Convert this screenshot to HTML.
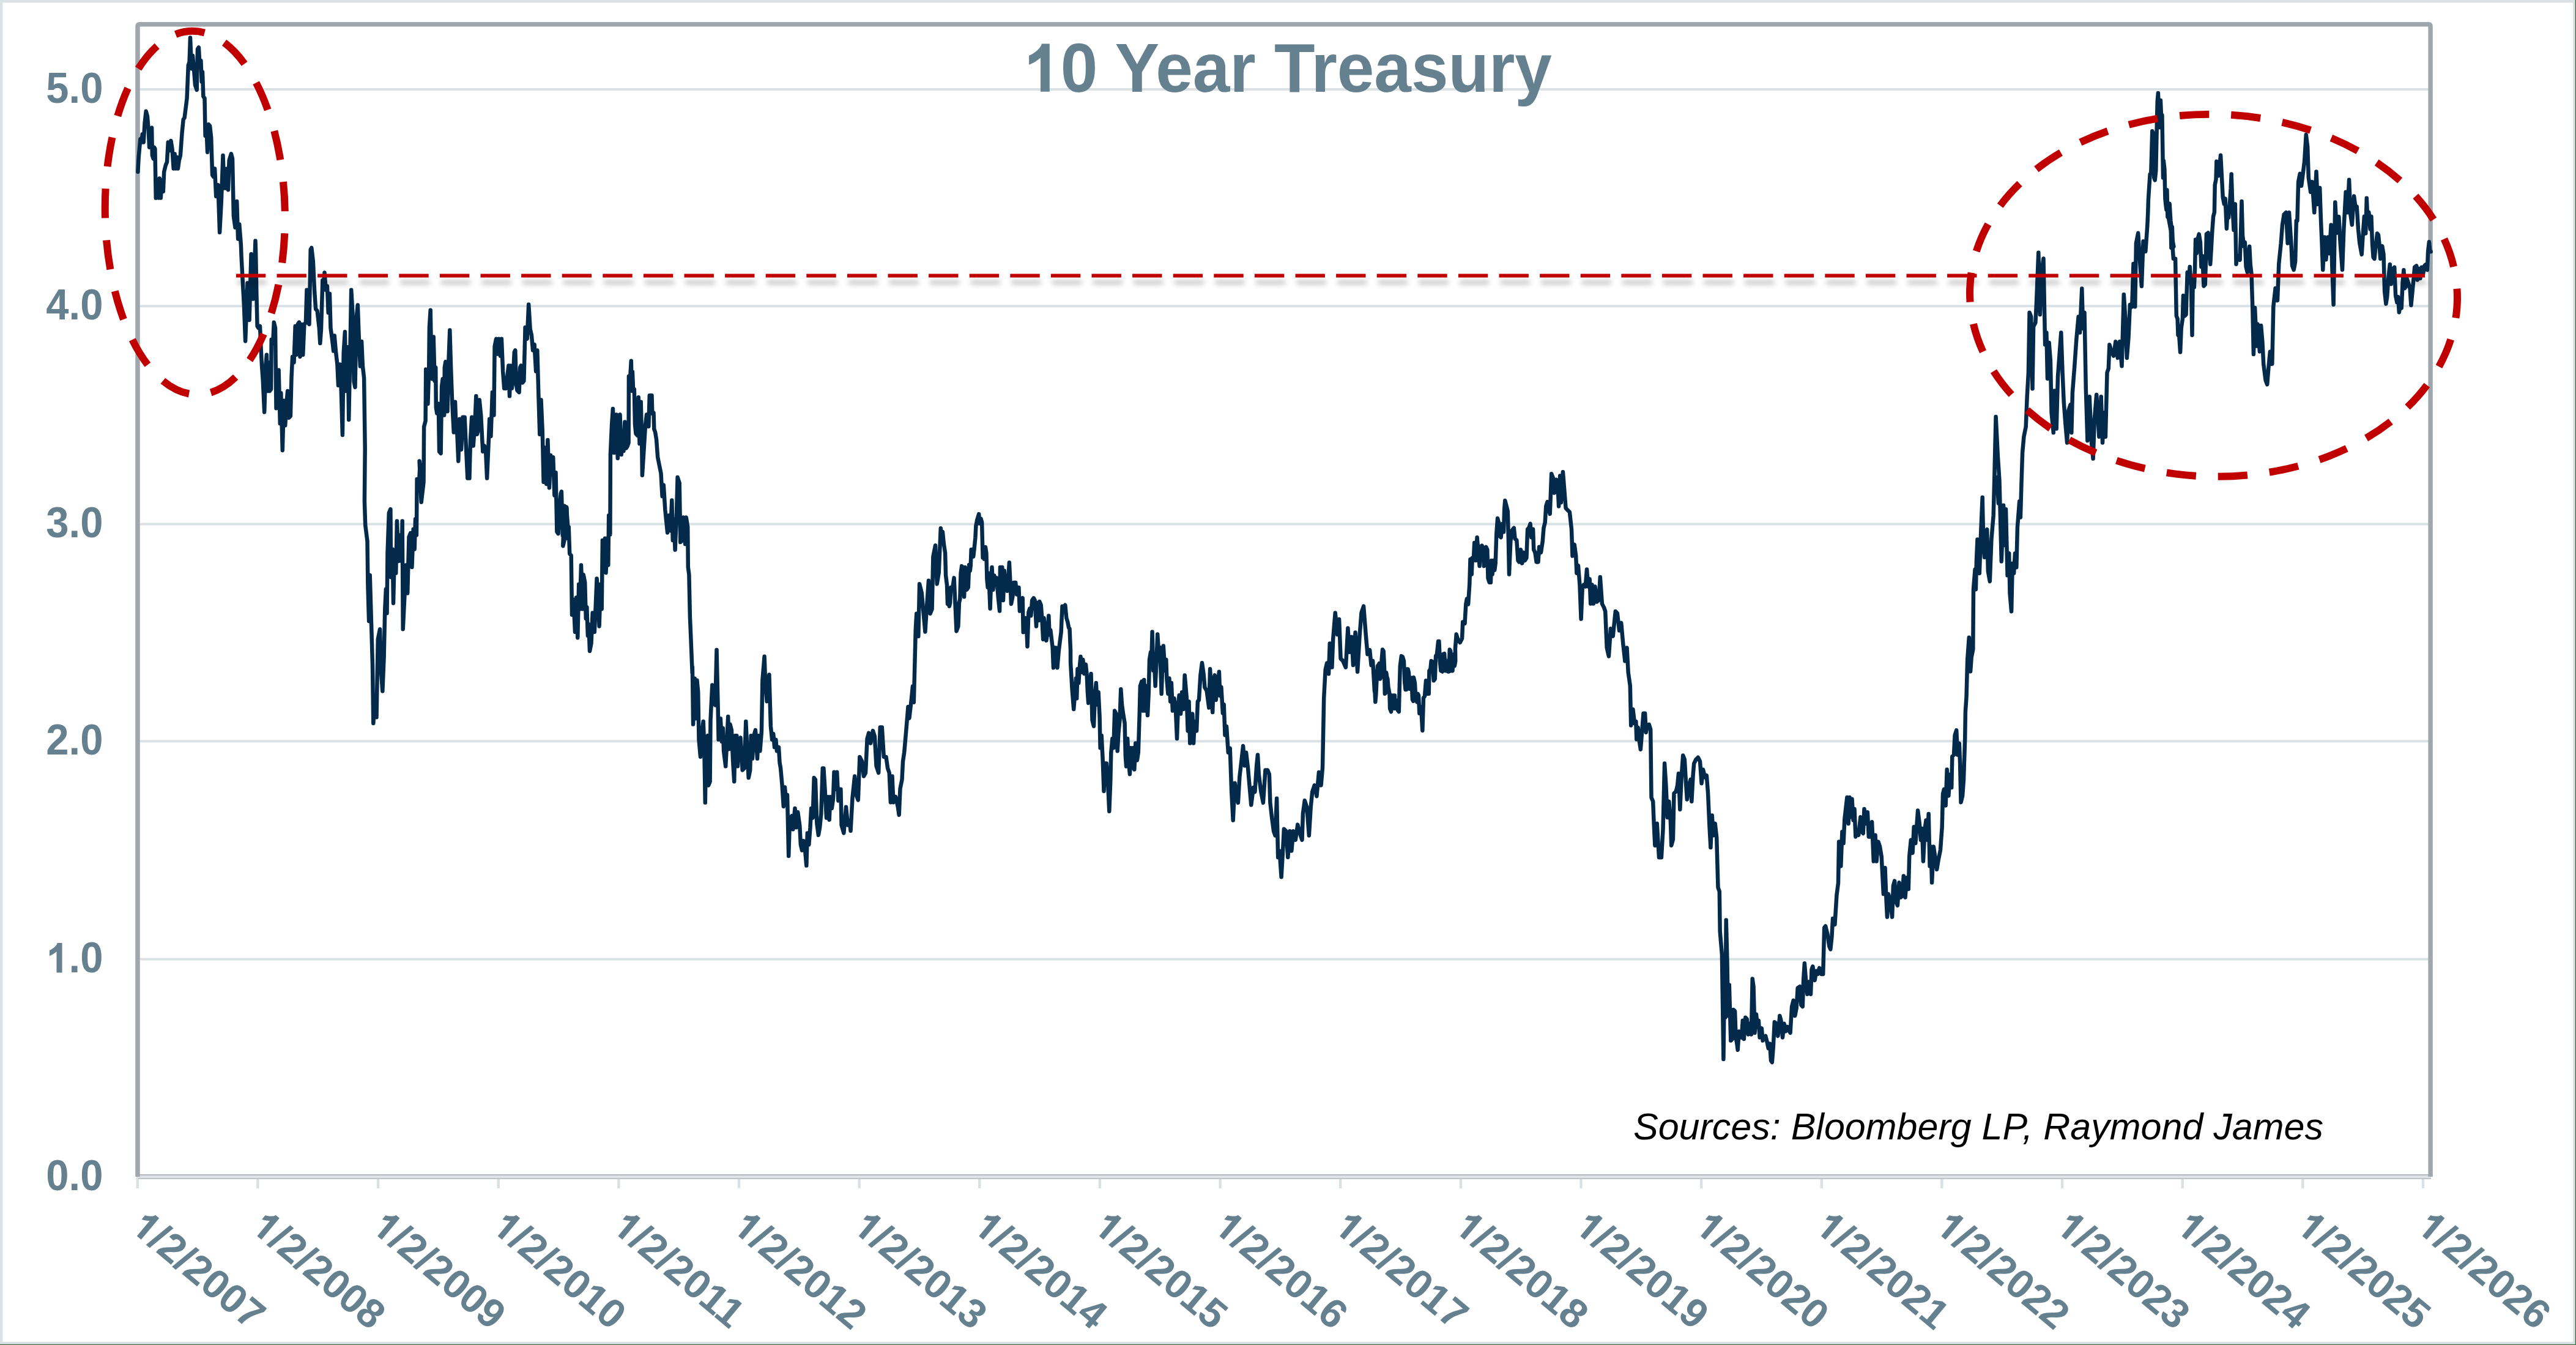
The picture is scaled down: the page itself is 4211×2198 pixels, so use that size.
<!DOCTYPE html><html><head><meta charset="utf-8"><style>html,body{margin:0;padding:0;background:#fff;width:4211px;height:2198px;overflow:hidden;position:relative}</style></head><body><svg width="4211" height="2198" viewBox="0 0 4211 2198" style="position:absolute;left:0;top:0">
<defs><filter id="sh" x="300" y="400" width="3700" height="120" filterUnits="userSpaceOnUse"><feGaussianBlur in="SourceAlpha" stdDeviation="4.5"/><feOffset dx="2" dy="11"/><feComponentTransfer><feFuncA type="linear" slope="0.27"/></feComponentTransfer><feMerge><feMergeNode/><feMergeNode in="SourceGraphic"/></feMerge></filter></defs>
<rect x="0" y="0" width="4211" height="2198" fill="#dbe2e5"/>
<rect x="4.5" y="4.5" width="4201.5" height="2188.3" fill="#ffffff"/>
<rect x="4209.7" y="0" width="1.3" height="2198" fill="#3d6b45"/>
<rect x="0" y="2196.8" width="4211" height="1.2" fill="#3d6b45"/>
<rect x="228" y="1565.5" width="3742" height="4" fill="#dae1e4"/>
<rect x="228" y="1209.3" width="3742" height="4" fill="#dae1e4"/>
<rect x="228" y="854.5" width="3742" height="4" fill="#dae1e4"/>
<rect x="228" y="498.2" width="3742" height="4" fill="#dae1e4"/>
<rect x="228" y="144.0" width="3742" height="4" fill="#dae1e4"/>
<rect x="222.6" y="1922" width="4.4" height="20" fill="#dae1e4"/>
<rect x="419.2" y="1922" width="4.4" height="20" fill="#dae1e4"/>
<rect x="615.9" y="1922" width="4.4" height="20" fill="#dae1e4"/>
<rect x="812.5" y="1922" width="4.4" height="20" fill="#dae1e4"/>
<rect x="1009.2" y="1922" width="4.4" height="20" fill="#dae1e4"/>
<rect x="1205.8" y="1922" width="4.4" height="20" fill="#dae1e4"/>
<rect x="1402.5" y="1922" width="4.4" height="20" fill="#dae1e4"/>
<rect x="1599.1" y="1922" width="4.4" height="20" fill="#dae1e4"/>
<rect x="1795.7" y="1922" width="4.4" height="20" fill="#dae1e4"/>
<rect x="1992.4" y="1922" width="4.4" height="20" fill="#dae1e4"/>
<rect x="2189.0" y="1922" width="4.4" height="20" fill="#dae1e4"/>
<rect x="2385.7" y="1922" width="4.4" height="20" fill="#dae1e4"/>
<rect x="2582.3" y="1922" width="4.4" height="20" fill="#dae1e4"/>
<rect x="2778.9" y="1922" width="4.4" height="20" fill="#dae1e4"/>
<rect x="2975.6" y="1922" width="4.4" height="20" fill="#dae1e4"/>
<rect x="3172.2" y="1922" width="4.4" height="20" fill="#dae1e4"/>
<rect x="3368.9" y="1922" width="4.4" height="20" fill="#dae1e4"/>
<rect x="3565.5" y="1922" width="4.4" height="20" fill="#dae1e4"/>
<rect x="3762.2" y="1922" width="4.4" height="20" fill="#dae1e4"/>
<rect x="3958.8" y="1922" width="4.4" height="20" fill="#dae1e4"/>
<rect x="226" y="1919" width="3748" height="8" fill="#dde3e6"/>
<rect x="226" y="1919" width="3748" height="1.8" fill="#a9b2ba"/>
<rect x="226" y="1925.2" width="3748" height="1.8" fill="#b9c1c7"/>
<path d="M225,1923 L225,43 Q225,39.7 228.3,39.7 L3969.8,39.7 Q3973.1,39.7 3973.1,43 L3973.1,1923" fill="none" stroke="#9ea6ae" stroke-width="7.4"/>
<text transform="translate(168.5,1944.9) scale(1,1.05)" text-anchor="end" font-family="Liberation Sans" font-weight="bold" font-size="67" fill="#65808e">0.0</text>
<g transform="translate(168.5,1589.4) scale(1,1.05)" fill="#65808e"><path d="M802,0 H523 V1039 C440,960 300,870 169,823 V1105 C260,1140 360,1210 430,1271 C500,1335 545,1400 560,1466 H802 Z" transform="translate(-93.14,0) scale(0.032715,-0.031442)"/><text x="-55.89" y="0" font-family="Liberation Sans" font-weight="bold" font-size="67">.0</text></g>
<text transform="translate(168.5,1233.2) scale(1,1.05)" text-anchor="end" font-family="Liberation Sans" font-weight="bold" font-size="67" fill="#65808e">2.0</text>
<text transform="translate(168.5,878.4) scale(1,1.05)" text-anchor="end" font-family="Liberation Sans" font-weight="bold" font-size="67" fill="#65808e">3.0</text>
<text transform="translate(168.5,522.1) scale(1,1.05)" text-anchor="end" font-family="Liberation Sans" font-weight="bold" font-size="67" fill="#65808e">4.0</text>
<text transform="translate(168.5,167.9) scale(1,1.05)" text-anchor="end" font-family="Liberation Sans" font-weight="bold" font-size="67" fill="#65808e">5.0</text>
<g transform="translate(2105.1,149.7) scale(0.99,1.032)" fill="#65808e"><path d="M802,0 H523 V1039 C440,960 300,870 169,823 V1105 C260,1140 360,1210 430,1271 C500,1335 545,1400 560,1466 H802 Z" transform="translate(-436.3,0) scale(0.053711,-0.051622)"/><text x="-375.13" y="0" font-family="Liberation Sans" font-weight="bold" font-size="110">0 Year Treasury</text></g>
<text x="2670" y="1862.2" font-family="Liberation Sans" font-style="italic" font-size="61" fill="#000">Sources: Bloomberg LP, Raymond James</text>
<g transform="translate(210.8,2009.0) rotate(40.0)" fill="#65808e"><path d="M802,0 H523 V1039 C440,960 300,870 169,823 V1105 C260,1140 360,1210 430,1271 C500,1335 545,1400 560,1466 H802 Z" transform="scale(0.032471,-0.031208)"/><text x="36.97" y="0" font-family="Liberation Sans" font-weight="bold" font-size="66.5">/2/2007</text></g>
<g transform="translate(407.4,2009.0) rotate(40.0)" fill="#65808e"><path d="M802,0 H523 V1039 C440,960 300,870 169,823 V1105 C260,1140 360,1210 430,1271 C500,1335 545,1400 560,1466 H802 Z" transform="scale(0.032471,-0.031208)"/><text x="36.97" y="0" font-family="Liberation Sans" font-weight="bold" font-size="66.5">/2/2008</text></g>
<g transform="translate(604.1,2009.0) rotate(40.0)" fill="#65808e"><path d="M802,0 H523 V1039 C440,960 300,870 169,823 V1105 C260,1140 360,1210 430,1271 C500,1335 545,1400 560,1466 H802 Z" transform="scale(0.032471,-0.031208)"/><text x="36.97" y="0" font-family="Liberation Sans" font-weight="bold" font-size="66.5">/2/2009</text></g>
<g transform="translate(800.7,2009.0) rotate(40.0)" fill="#65808e"><path d="M802,0 H523 V1039 C440,960 300,870 169,823 V1105 C260,1140 360,1210 430,1271 C500,1335 545,1400 560,1466 H802 Z" transform="scale(0.032471,-0.031208)"/><text x="36.97" y="0" font-family="Liberation Sans" font-weight="bold" font-size="66.5">/2/2010</text></g>
<g transform="translate(997.4,2009.0) rotate(40.0)" fill="#65808e"><path d="M802,0 H523 V1039 C440,960 300,870 169,823 V1105 C260,1140 360,1210 430,1271 C500,1335 545,1400 560,1466 H802 Z" transform="scale(0.032471,-0.031208)"/><text x="36.97" y="0" font-family="Liberation Sans" font-weight="bold" font-size="66.5">/2/2011</text></g>
<g transform="translate(1194.0,2009.0) rotate(40.0)" fill="#65808e"><path d="M802,0 H523 V1039 C440,960 300,870 169,823 V1105 C260,1140 360,1210 430,1271 C500,1335 545,1400 560,1466 H802 Z" transform="scale(0.032471,-0.031208)"/><text x="36.97" y="0" font-family="Liberation Sans" font-weight="bold" font-size="66.5">/2/2012</text></g>
<g transform="translate(1390.7,2009.0) rotate(40.0)" fill="#65808e"><path d="M802,0 H523 V1039 C440,960 300,870 169,823 V1105 C260,1140 360,1210 430,1271 C500,1335 545,1400 560,1466 H802 Z" transform="scale(0.032471,-0.031208)"/><text x="36.97" y="0" font-family="Liberation Sans" font-weight="bold" font-size="66.5">/2/2013</text></g>
<g transform="translate(1587.3,2009.0) rotate(40.0)" fill="#65808e"><path d="M802,0 H523 V1039 C440,960 300,870 169,823 V1105 C260,1140 360,1210 430,1271 C500,1335 545,1400 560,1466 H802 Z" transform="scale(0.032471,-0.031208)"/><text x="36.97" y="0" font-family="Liberation Sans" font-weight="bold" font-size="66.5">/2/2014</text></g>
<g transform="translate(1783.9,2009.0) rotate(40.0)" fill="#65808e"><path d="M802,0 H523 V1039 C440,960 300,870 169,823 V1105 C260,1140 360,1210 430,1271 C500,1335 545,1400 560,1466 H802 Z" transform="scale(0.032471,-0.031208)"/><text x="36.97" y="0" font-family="Liberation Sans" font-weight="bold" font-size="66.5">/2/2015</text></g>
<g transform="translate(1980.6,2009.0) rotate(40.0)" fill="#65808e"><path d="M802,0 H523 V1039 C440,960 300,870 169,823 V1105 C260,1140 360,1210 430,1271 C500,1335 545,1400 560,1466 H802 Z" transform="scale(0.032471,-0.031208)"/><text x="36.97" y="0" font-family="Liberation Sans" font-weight="bold" font-size="66.5">/2/2016</text></g>
<g transform="translate(2177.2,2009.0) rotate(40.0)" fill="#65808e"><path d="M802,0 H523 V1039 C440,960 300,870 169,823 V1105 C260,1140 360,1210 430,1271 C500,1335 545,1400 560,1466 H802 Z" transform="scale(0.032471,-0.031208)"/><text x="36.97" y="0" font-family="Liberation Sans" font-weight="bold" font-size="66.5">/2/2017</text></g>
<g transform="translate(2373.9,2009.0) rotate(40.0)" fill="#65808e"><path d="M802,0 H523 V1039 C440,960 300,870 169,823 V1105 C260,1140 360,1210 430,1271 C500,1335 545,1400 560,1466 H802 Z" transform="scale(0.032471,-0.031208)"/><text x="36.97" y="0" font-family="Liberation Sans" font-weight="bold" font-size="66.5">/2/2018</text></g>
<g transform="translate(2570.5,2009.0) rotate(40.0)" fill="#65808e"><path d="M802,0 H523 V1039 C440,960 300,870 169,823 V1105 C260,1140 360,1210 430,1271 C500,1335 545,1400 560,1466 H802 Z" transform="scale(0.032471,-0.031208)"/><text x="36.97" y="0" font-family="Liberation Sans" font-weight="bold" font-size="66.5">/2/2019</text></g>
<g transform="translate(2767.1,2009.0) rotate(40.0)" fill="#65808e"><path d="M802,0 H523 V1039 C440,960 300,870 169,823 V1105 C260,1140 360,1210 430,1271 C500,1335 545,1400 560,1466 H802 Z" transform="scale(0.032471,-0.031208)"/><text x="36.97" y="0" font-family="Liberation Sans" font-weight="bold" font-size="66.5">/2/2020</text></g>
<g transform="translate(2963.8,2009.0) rotate(40.0)" fill="#65808e"><path d="M802,0 H523 V1039 C440,960 300,870 169,823 V1105 C260,1140 360,1210 430,1271 C500,1335 545,1400 560,1466 H802 Z" transform="scale(0.032471,-0.031208)"/><text x="36.97" y="0" font-family="Liberation Sans" font-weight="bold" font-size="66.5">/2/2021</text></g>
<g transform="translate(3160.4,2009.0) rotate(40.0)" fill="#65808e"><path d="M802,0 H523 V1039 C440,960 300,870 169,823 V1105 C260,1140 360,1210 430,1271 C500,1335 545,1400 560,1466 H802 Z" transform="scale(0.032471,-0.031208)"/><text x="36.97" y="0" font-family="Liberation Sans" font-weight="bold" font-size="66.5">/2/2022</text></g>
<g transform="translate(3357.1,2009.0) rotate(40.0)" fill="#65808e"><path d="M802,0 H523 V1039 C440,960 300,870 169,823 V1105 C260,1140 360,1210 430,1271 C500,1335 545,1400 560,1466 H802 Z" transform="scale(0.032471,-0.031208)"/><text x="36.97" y="0" font-family="Liberation Sans" font-weight="bold" font-size="66.5">/2/2023</text></g>
<g transform="translate(3553.7,2009.0) rotate(40.0)" fill="#65808e"><path d="M802,0 H523 V1039 C440,960 300,870 169,823 V1105 C260,1140 360,1210 430,1271 C500,1335 545,1400 560,1466 H802 Z" transform="scale(0.032471,-0.031208)"/><text x="36.97" y="0" font-family="Liberation Sans" font-weight="bold" font-size="66.5">/2/2024</text></g>
<g transform="translate(3750.4,2009.0) rotate(40.0)" fill="#65808e"><path d="M802,0 H523 V1039 C440,960 300,870 169,823 V1105 C260,1140 360,1210 430,1271 C500,1335 545,1400 560,1466 H802 Z" transform="scale(0.032471,-0.031208)"/><text x="36.97" y="0" font-family="Liberation Sans" font-weight="bold" font-size="66.5">/2/2025</text></g>
<g transform="translate(3947.0,2009.0) rotate(40.0)" fill="#65808e"><path d="M802,0 H523 V1039 C440,960 300,870 169,823 V1105 C260,1140 360,1210 430,1271 C500,1335 545,1400 560,1466 H802 Z" transform="scale(0.032471,-0.031208)"/><text x="36.97" y="0" font-family="Liberation Sans" font-weight="bold" font-size="66.5">/2/2026</text></g>
<path d="M225.4,280.8 L226.7,256.7 L229.4,227.3 L231.2,232.6 L232.8,219.3 L234.7,232.6 L236.6,200.5 L238.7,181.8 L240.9,189.8 L242.7,211.2 L244.1,240.7 L246.2,211.2 L248.1,208.6 L248.9,254.0 L250.8,259.4 L252.1,240.7 L253.4,243.3 L254.8,323.6 L257.5,294.2 L259.6,323.6 L260.7,291.5 L262.8,323.6 L264.9,294.2 L266.8,312.9 L268.2,280.8 L270.8,270.1 L273.0,264.7 L274.8,232.6 L277.5,246.0 L279.4,230.0 L281.5,243.3 L283.7,275.5 L285.6,251.4 L287.4,275.5 L289.0,256.7 L290.9,275.5 L292.8,262.1 L294.9,254.0 L297.6,216.6 L299.7,195.2 L301.6,192.5 L304.3,171.1 L305.6,160.4 L307.8,106.9 L309.6,101.5 L311.0,61.4 L313.1,112.2 L315.0,90.8 L316.9,112.2 L319.0,139.0 L321.7,147.0 L323.0,80.1 L324.9,77.5 L326.5,106.9 L328.4,98.9 L329.7,133.6 L331.0,117.6 L332.4,157.7 L334.5,160.4 L335.6,221.9 L337.7,213.9 L339.1,248.7 L340.9,203.2 L343.1,205.9 L345.2,224.6 L347.1,286.2 L349.0,288.8 L351.1,275.5 L353.2,320.9 L356.5,302.2 L359.1,379.8 L361.8,329.0 L364.5,254.0 L366.6,307.6 L369.3,307.6 L371.2,275.5 L373.0,310.2 L374.6,262.1 L377.9,251.4 L380.0,259.4 L381.9,353.0 L384.5,371.8 L387.2,329.0 L389.1,390.5 L391.2,366.4 L393.9,399.9 L394.6,419.5 L399.0,501.4 L401.1,557.5 L404.6,462.6 L407.6,523.0 L410.6,415.2 L414.0,488.5 L417.5,393.6 L418.1,411.2 L419.4,483.0 L420.6,533.0 L422.5,536.1 L425.0,533.0 L426.5,567.3 L428.1,598.5 L429.7,620.4 L432.2,673.5 L434.3,598.5 L435.9,579.8 L437.5,639.1 L439.0,592.3 L440.6,639.1 L443.1,636.0 L443.7,554.8 L446.2,561.1 L447.8,526.7 L450.0,536.1 L451.5,667.2 L453.7,617.3 L455.6,604.8 L457.8,692.2 L459.3,642.3 L461.8,735.9 L464.0,654.7 L466.2,695.3 L468.7,654.7 L470.2,639.1 L472.4,682.8 L474.9,679.7 L476.5,617.3 L478.1,582.9 L480.5,592.3 L482.7,533.0 L484.3,579.8 L486.8,529.9 L489.0,526.7 L490.5,582.9 L493.0,529.9 L495.2,579.8 L497.4,529.9 L499.9,526.7 L501.5,473.7 L503.0,526.7 L505.5,529.9 L507.7,408.1 L509.3,405.0 L511.8,426.8 L514.0,473.7 L516.1,504.9 L518.6,508.0 L521.8,536.1 L523.3,561.1 L524.9,539.2 L527.4,458.1 L528.6,473.7 L530.5,445.6 L532.7,473.7 L534.9,467.4 L536.7,511.1 L538.9,479.9 L540.5,536.1 L543.0,554.8 L545.2,573.6 L546.7,548.6 L549.2,576.7 L551.4,595.4 L553.0,629.8 L555.5,595.4 L557.7,636.0 L559.9,710.9 L561.7,576.7 L563.9,542.3 L565.5,639.1 L568.6,567.3 L570.2,686.0 L572.3,579.8 L574.2,473.7 L576.4,511.1 L578.6,623.5 L580.5,632.9 L582.6,520.5 L584.8,498.6 L587.3,567.3 L588.9,598.5 L591.1,558.0 L592.9,598.5 L595.1,617.3 L596.7,732.8 L595.9,818.9 L597.2,858.1 L600.5,884.3 L601.4,956.3 L603.1,1015.2 L604.7,939.9 L607.0,1018.4 L609.0,1087.1 L610.3,1182.0 L612.9,1139.5 L615.5,1172.2 L617.8,1044.6 L621.1,1028.2 L622.7,1093.7 L625.3,1129.6 L627.6,1074.0 L629.3,995.5 L630.9,962.8 L632.5,1002.1 L633.5,903.9 L635.8,838.5 L638.4,832.0 L639.1,943.2 L641.7,897.4 L643.0,985.7 L645.0,900.7 L647.2,936.6 L648.9,851.6 L651.5,917.0 L653.8,874.5 L656.4,917.0 L657.7,851.6 L658.7,1028.2 L661.3,975.9 L663.6,923.6 L666.2,969.4 L668.5,877.8 L671.1,871.2 L673.4,926.8 L675.7,864.7 L677.7,897.4 L679.0,848.3 L680.9,874.5 L681.6,782.9 L684.9,792.7 L686.5,760.0 L685.6,753.5 L688.7,820.6 L692.5,787.8 L693.1,697.3 L695.6,687.9 L696.2,603.6 L698.1,606.7 L699.4,659.8 L701.2,603.6 L701.9,534.9 L703.7,506.8 L705.0,578.6 L706.5,619.2 L708.7,550.5 L710.6,622.3 L712.2,600.5 L712.8,666.1 L714.3,675.4 L716.8,659.8 L718.1,737.9 L720.6,741.0 L722.1,631.7 L723.7,619.2 L726.2,678.5 L726.8,600.5 L728.4,591.1 L730.0,634.8 L731.5,672.3 L733.1,597.4 L735.3,539.6 L737.1,600.5 L739.3,659.8 L741.8,706.6 L744.0,656.7 L745.6,700.4 L747.1,703.5 L749.3,753.5 L751.2,684.8 L754.0,734.7 L756.5,681.7 L759.6,681.7 L761.8,728.5 L764.3,781.6 L767.4,781.6 L769.0,719.1 L771.2,681.7 L773.7,728.5 L776.2,694.2 L778.3,647.3 L779.9,709.8 L781.5,703.5 L783.7,653.6 L786.2,678.5 L789.3,737.9 L791.8,728.5 L794.0,734.7 L796.1,781.6 L798.6,725.4 L800.2,684.8 L802.4,712.9 L804.9,641.1 L807.4,678.5 L808.6,566.2 L811.1,553.7 L813.6,578.6 L815.2,553.7 L818.0,581.8 L819.9,553.7 L822.1,606.7 L824.2,634.8 L826.7,634.8 L829.2,616.1 L831.4,597.4 L833.0,647.3 L834.5,597.4 L836.7,634.8 L838.6,619.2 L840.8,575.5 L842.3,572.4 L843.9,628.6 L845.5,638.0 L848.6,641.1 L850.2,600.5 L851.7,597.4 L854.2,625.5 L856.4,622.3 L858.6,534.9 L861.7,553.7 L864.2,497.5 L866.7,538.1 L868.9,547.4 L871.1,572.4 L873.6,563.0 L876.1,606.7 L878.3,572.4 L880.4,647.3 L882.3,709.8 L884.5,653.6 L886.7,703.5 L888.6,787.8 L890.7,731.6 L893.2,790.9 L895.4,719.1 L897.9,797.2 L900.1,744.1 L902.3,775.3 L904.2,747.2 L906.4,809.7 L908.5,772.2 L910.4,869.0 L912.6,872.1 L914.8,828.4 L916.7,806.6 L917.9,803.4 L919.8,875.2 L923.5,847.1 L926.0,828.4 L928.2,859.6 L920.3,892.3 L922.5,826.7 L925.0,870.4 L926.5,829.9 L928.1,879.8 L929.7,861.1 L931.2,904.8 L933.7,907.9 L935.0,1004.7 L937.5,979.7 L940.0,1032.8 L942.1,976.6 L944.3,1042.2 L946.2,954.7 L947.8,995.3 L950.0,923.5 L952.5,995.3 L953.7,939.1 L956.2,951.6 L957.8,1010.9 L959.3,992.2 L960.9,1039.0 L962.4,1020.3 L964.0,1064.0 L966.5,1051.5 L968.7,1001.6 L971.8,1032.8 L973.4,998.5 L975.6,945.4 L978.1,979.7 L979.6,1023.4 L981.8,954.7 L983.7,995.3 L984.9,882.9 L987.4,929.8 L989.0,879.8 L990.5,936.0 L993.0,879.8 L994.3,923.5 L995.2,842.3 L997.4,873.6 L997.9,743.0 L1000.1,693.9 L1001.9,667.9 L1003.1,708.8 L1003.8,740.0 L1006.0,716.2 L1007.5,677.5 L1009.8,748.9 L1011.2,679.0 L1013.5,677.5 L1015.7,743.0 L1017.9,716.2 L1019.4,737.0 L1021.4,689.4 L1023.4,732.6 L1025.4,729.6 L1027.6,723.6 L1027.9,615.0 L1029.8,622.5 L1031.8,589.8 L1032.8,638.8 L1033.9,607.6 L1035.0,634.4 L1036.8,635.9 L1038.0,693.9 L1039.5,708.8 L1042.2,711.7 L1043.7,649.3 L1045.5,725.1 L1047.7,656.7 L1049.2,723.6 L1049.9,776.8 L1055.1,693.9 L1057.1,677.5 L1058.8,679.0 L1060.3,696.9 L1061.8,646.3 L1065.5,646.3 L1066.3,676.0 L1068.5,674.5 L1069.3,701.3 L1071.0,705.8 L1073.0,717.7 L1075.2,747.4 L1080.5,773.7 L1082.6,811.1 L1084.8,792.4 L1087.3,833.0 L1091.1,870.4 L1093.6,842.3 L1096.1,867.3 L1098.3,817.4 L1099.8,882.9 L1101.4,848.6 L1103.6,898.5 L1106.1,836.1 L1107.6,779.9 L1110.7,789.3 L1112.3,886.1 L1115.4,882.9 L1117.0,845.5 L1120.1,889.2 L1121.7,845.5 L1124.2,861.1 L1124.8,926.6 L1126.4,939.1 L1127.9,1007.8 L1129.5,1045.3 L1131.7,1099.9 L1131.9,1090.0 L1133.1,1183.6 L1135.6,1108.7 L1137.2,1174.2 L1139.4,1111.8 L1141.2,1130.5 L1142.5,1208.6 L1145.0,1236.7 L1147.5,1196.1 L1149.7,1178.9 L1151.2,1218.0 L1152.8,1311.6 L1154.3,1205.5 L1156.8,1202.3 L1158.1,1283.5 L1160.6,1277.3 L1161.5,1177.4 L1164.3,1119.6 L1166.8,1149.3 L1169.3,1152.4 L1171.5,1061.9 L1173.7,1158.6 L1174.6,1208.6 L1177.8,1174.2 L1179.9,1211.7 L1181.8,1189.9 L1183.1,1227.3 L1186.2,1252.3 L1188.1,1214.8 L1190.2,1171.1 L1191.8,1224.2 L1193.4,1183.6 L1195.9,1193.0 L1198.1,1242.9 L1200.2,1277.3 L1201.8,1202.3 L1204.3,1202.3 L1205.9,1252.3 L1208.0,1214.8 L1210.5,1205.5 L1213.7,1258.5 L1216.8,1255.4 L1219.3,1178.9 L1221.5,1227.3 L1223.7,1271.0 L1226.2,1258.5 L1227.7,1202.3 L1229.9,1239.8 L1232.4,1202.3 L1234.9,1193.0 L1238.0,1239.8 L1239.6,1202.3 L1242.4,1227.3 L1244.9,1196.1 L1246.4,1111.8 L1249.6,1072.8 L1251.1,1114.9 L1253.6,1146.2 L1255.2,1139.9 L1257.4,1102.4 L1259.9,1186.7 L1262.1,1208.6 L1264.2,1199.2 L1266.1,1221.1 L1268.3,1208.6 L1269.9,1227.3 L1273.0,1221.1 L1274.5,1246.1 L1276.1,1255.4 L1278.6,1283.5 L1280.8,1317.9 L1283.0,1286.6 L1285.5,1314.7 L1287.0,1299.1 L1289.2,1399.0 L1291.1,1336.6 L1294.2,1333.5 L1296.4,1355.3 L1299.5,1321.0 L1301.7,1352.2 L1304.2,1327.2 L1307.3,1349.1 L1308.9,1380.3 L1311.1,1389.7 L1313.6,1374.1 L1316.1,1389.7 L1318.3,1414.6 L1319.8,1361.6 L1322.3,1380.3 L1324.5,1352.2 L1326.1,1321.0 L1328.6,1336.6 L1330.7,1271.0 L1332.9,1274.2 L1335.4,1346.0 L1337.9,1364.7 L1340.1,1352.2 L1342.3,1330.4 L1344.8,1255.4 L1346.4,1255.4 L1348.5,1289.8 L1351.0,1336.6 L1353.5,1302.3 L1355.7,1339.7 L1357.3,1302.3 L1359.8,1321.0 L1362.0,1305.4 L1363.5,1261.7 L1366.6,1289.8 L1368.2,1261.7 L1370.4,1308.5 L1372.9,1289.8 L1374.4,1289.8 L1375.6,1348.4 L1379.3,1361.4 L1383.0,1318.7 L1386.0,1348.4 L1389.0,1341.0 L1390.5,1357.7 L1393.5,1303.8 L1397.2,1268.5 L1400.1,1300.1 L1402.8,1307.5 L1405.4,1236.9 L1409.1,1244.3 L1412.0,1268.5 L1415.0,1262.9 L1417.6,1207.1 L1420.2,1197.8 L1423.2,1214.6 L1426.9,1194.1 L1429.9,1203.4 L1432.5,1251.7 L1436.2,1262.9 L1438.8,1188.6 L1441.8,1188.6 L1444.8,1236.9 L1448.5,1236.9 L1451.1,1255.5 L1453.7,1262.9 L1455.9,1311.2 L1458.5,1268.5 L1460.4,1311.2 L1464.1,1301.9 L1467.8,1318.7 L1469.7,1331.7 L1471.5,1288.9 L1474.5,1274.1 L1476.0,1244.3 L1478.2,1229.4 L1480.8,1199.7 L1484.5,1155.1 L1486.4,1173.7 L1489.4,1147.7 L1492.0,1121.6 L1493.8,1147.7 L1496.8,1028.7 L1498.3,1002.7 L1501.3,1039.9 L1503.1,954.3 L1506.8,969.2 L1508.7,991.5 L1512.4,1032.4 L1514.3,1002.7 L1518.0,948.8 L1520.6,1002.7 L1523.6,995.2 L1525.4,909.7 L1529.1,891.2 L1531.7,954.3 L1534.7,935.8 L1537.8,863.2 L1539.3,878.7 L1540.9,869.0 L1542.8,888.3 L1545.1,903.8 L1546.1,940.5 L1548.0,956.0 L1549.0,986.9 L1550.5,975.3 L1551.9,990.8 L1553.2,985.0 L1554.4,959.9 L1556.7,963.7 L1559.6,944.4 L1561.0,975.3 L1563.5,1031.4 L1566.4,1023.6 L1567.9,985.0 L1569.3,979.2 L1570.6,936.7 L1572.2,925.1 L1574.1,930.9 L1576.1,975.3 L1577.6,927.0 L1579.0,940.5 L1580.3,963.7 L1582.8,959.9 L1584.2,923.1 L1585.7,932.8 L1586.7,925.1 L1587.7,898.0 L1589.2,898.0 L1591.1,909.6 L1592.5,898.0 L1594.4,878.7 L1595.4,859.3 L1597.3,849.7 L1600.2,840.0 L1601.2,855.5 L1603.5,847.7 L1605.1,853.5 L1606.6,911.5 L1608.0,894.1 L1608.9,913.5 L1610.9,894.1 L1612.4,903.8 L1613.4,946.3 L1614.7,959.9 L1616.3,936.7 L1618.6,994.6 L1620.1,950.2 L1621.5,927.0 L1623.4,963.7 L1625.4,940.5 L1627.3,952.1 L1629.2,944.4 L1631.7,975.3 L1634.1,998.5 L1635.0,927.0 L1637.0,940.5 L1638.3,927.0 L1639.9,981.1 L1641.8,932.8 L1643.7,963.7 L1645.3,942.5 L1646.6,965.7 L1647.6,956.0 L1649.9,919.3 L1651.5,952.1 L1653.0,986.9 L1655.3,975.3 L1657.3,952.1 L1660.2,952.1 L1662.1,971.5 L1663.4,959.9 L1665.4,959.9 L1666.9,998.5 L1668.8,981.1 L1671.7,977.3 L1672.7,1033.3 L1674.6,1010.1 L1677.5,1010.1 L1679.5,1056.5 L1681.4,1000.4 L1683.3,994.6 L1685.3,1006.2 L1687.2,981.1 L1689.7,977.3 L1691.7,981.1 L1694.0,1023.6 L1695.9,985.0 L1697.8,1014.0 L1699.4,983.1 L1701.7,988.8 L1703.3,1010.1 L1705.2,1044.9 L1706.5,1010.1 L1708.5,1033.3 L1710.4,1046.8 L1712.3,1033.3 L1714.3,1006.2 L1715.6,1037.2 L1717.2,1029.4 L1719.1,1044.9 L1720.7,1058.4 L1722.0,1091.3 L1723.9,1058.4 L1725.9,1058.4 L1728.4,1091.3 L1730.7,1064.2 L1732.6,1048.8 L1734.6,1033.3 L1736.5,990.8 L1738.4,992.7 L1741.3,988.8 L1743.3,1010.1 L1745.2,1015.9 L1747.1,1025.6 L1748.5,1027.5 L1750.0,1062.3 L1750.1,1083.2 L1752.6,1126.2 L1755.2,1159.0 L1757.2,1133.8 L1759.0,1108.5 L1760.2,1141.3 L1761.5,1093.3 L1763.3,1116.1 L1764.8,1090.8 L1766.5,1073.1 L1768.3,1098.4 L1770.3,1078.1 L1772.4,1100.9 L1774.9,1085.7 L1776.7,1103.4 L1777.9,1131.2 L1779.2,1148.9 L1781.0,1131.2 L1783.5,1100.9 L1785.5,1176.7 L1788.0,1186.8 L1790.1,1133.8 L1791.8,1116.1 L1793.6,1151.4 L1795.6,1131.2 L1797.6,1171.7 L1798.6,1222.2 L1800.7,1202.0 L1802.7,1242.4 L1804.5,1293.0 L1806.2,1247.5 L1808.8,1247.5 L1810.8,1272.8 L1813.3,1325.9 L1815.3,1275.3 L1816.3,1229.8 L1818.4,1207.1 L1820.4,1222.2 L1822.2,1161.6 L1824.7,1166.6 L1826.7,1227.3 L1828.5,1196.9 L1830.5,1176.7 L1832.3,1126.2 L1834.0,1151.4 L1836.1,1166.6 L1838.6,1181.8 L1839.8,1234.9 L1841.1,1252.6 L1843.1,1207.1 L1844.9,1242.4 L1846.9,1265.2 L1848.7,1222.2 L1850.7,1255.1 L1852.5,1222.2 L1854.3,1257.6 L1856.3,1214.6 L1858.8,1242.4 L1860.8,1229.8 L1862.6,1171.7 L1863.9,1121.1 L1866.4,1113.5 L1868.4,1161.6 L1870.2,1111.0 L1872.2,1161.6 L1874.0,1121.1 L1876.0,1169.1 L1877.8,1131.2 L1879.0,1078.1 L1881.1,1065.5 L1882.1,1085.7 L1883.6,1032.6 L1885.3,1095.8 L1887.1,1085.7 L1888.6,1121.1 L1890.4,1083.2 L1892.2,1036.4 L1894.7,1075.6 L1896.2,1057.9 L1898.7,1133.8 L1900.5,1083.2 L1901.8,1055.4 L1904.3,1095.8 L1906.3,1078.1 L1907.3,1108.5 L1909.4,1133.8 L1911.4,1108.5 L1913.2,1146.4 L1914.9,1116.1 L1916.9,1161.6 L1919.5,1141.3 L1922.0,1161.6 L1924.0,1207.1 L1925.8,1156.5 L1927.6,1136.3 L1930.1,1166.6 L1932.1,1131.2 L1934.6,1159.0 L1936.7,1103.4 L1939.7,1138.8 L1941.7,1194.4 L1943.5,1146.4 L1945.3,1214.6 L1947.3,1169.1 L1949.3,1166.6 L1951.1,1214.6 L1952.8,1179.3 L1956.1,1194.4 L1957.9,1146.4 L1959.9,1143.9 L1962.4,1103.4 L1965.0,1083.2 L1967.5,1100.9 L1969.5,1123.6 L1972.6,1128.7 L1976.3,1156.5 L1978.1,1093.3 L1980.1,1131.2 L1982.2,1164.1 L1983.9,1111.0 L1985.7,1103.4 L1987.7,1143.9 L1990.3,1121.1 L1992.9,1097.8 L1994.3,1137.0 L1996.4,1122.8 L1998.9,1165.6 L2000.7,1151.3 L2002.5,1201.3 L2005.0,1187.0 L2007.8,1229.8 L2010.7,1222.7 L2013.2,1294.1 L2015.7,1340.5 L2018.6,1279.8 L2021.4,1301.2 L2023.9,1311.9 L2026.4,1269.1 L2029.3,1244.1 L2032.1,1219.1 L2034.6,1251.2 L2037.1,1229.8 L2040.0,1254.8 L2042.8,1286.9 L2045.3,1315.5 L2048.9,1286.9 L2051.4,1294.1 L2054.2,1251.2 L2056.0,1233.4 L2057.8,1265.5 L2061.4,1294.1 L2064.9,1311.9 L2068.5,1258.4 L2072.1,1258.4 L2074.9,1265.5 L2076.4,1311.9 L2079.2,1336.9 L2082.1,1358.3 L2084.6,1365.4 L2087.1,1304.8 L2089.2,1401.1 L2091.7,1390.4 L2094.6,1433.2 L2097.1,1390.4 L2098.9,1354.7 L2102.4,1358.3 L2105.3,1401.1 L2108.5,1358.3 L2111.3,1390.4 L2114.2,1358.3 L2117.8,1372.6 L2121.3,1347.6 L2124.9,1361.9 L2128.5,1372.6 L2129.9,1329.8 L2132.8,1308.3 L2136.3,1319.0 L2139.9,1365.4 L2142.7,1319.0 L2145.2,1294.1 L2148.8,1283.4 L2152.4,1301.2 L2156.0,1261.9 L2159.5,1283.4 L2162.0,1254.8 L2164.2,1140.6 L2166.7,1094.2 L2169.2,1083.5 L2172.0,1101.3 L2173.8,1051.4 L2177.4,1090.6 L2179.2,1044.2 L2182.7,1001.4 L2186.3,1037.1 L2189.1,1012.1 L2191.6,1076.4 L2195.2,1079.9 L2199.9,1090.6 L2203.4,1026.4 L2205.9,1065.7 L2209.5,1040.7 L2212.0,1087.1 L2215.6,1033.5 L2219.1,1097.8 L2222.7,1037.1 L2225.5,1001.4 L2229.1,990.7 L2232.7,1037.1 L2235.5,1069.2 L2239.1,1062.1 L2241.6,1087.1 L2244.1,1079.9 L2247.0,1129.9 L2247.4,1127.0 L2248.3,1147.1 L2249.4,1133.7 L2250.7,1106.9 L2252.0,1088.2 L2253.4,1086.8 L2254.7,1084.2 L2256.1,1109.6 L2257.4,1106.9 L2258.7,1077.5 L2260.1,1061.4 L2261.7,1064.1 L2263.0,1090.9 L2263.8,1133.7 L2265.2,1132.3 L2266.1,1098.9 L2267.4,1106.9 L2268.4,1109.6 L2269.4,1123.0 L2271.5,1133.7 L2272.1,1157.8 L2274.1,1163.1 L2275.1,1136.4 L2276.8,1157.8 L2278.1,1136.4 L2279.9,1136.4 L2280.8,1157.8 L2282.8,1144.4 L2284.8,1160.4 L2286.8,1163.1 L2287.5,1133.7 L2288.8,1088.2 L2290.9,1072.1 L2292.9,1073.5 L2294.9,1080.1 L2296.2,1113.6 L2297.5,1127.0 L2298.9,1127.0 L2300.0,1093.5 L2301.6,1093.5 L2302.9,1098.9 L2304.2,1125.7 L2305.6,1106.9 L2307.6,1109.6 L2308.9,1143.1 L2310.3,1145.7 L2310.9,1106.9 L2312.9,1116.3 L2314.3,1141.7 L2316.3,1147.1 L2317.6,1133.7 L2319.0,1136.4 L2320.3,1165.8 L2323.0,1155.1 L2325.3,1193.9 L2327.0,1140.4 L2329.0,1137.7 L2331.0,1112.3 L2333.0,1133.7 L2335.7,1133.7 L2336.4,1096.2 L2338.4,1093.5 L2339.7,1080.1 L2341.7,1081.5 L2343.7,1112.3 L2345.7,1109.6 L2347.1,1072.1 L2348.4,1073.5 L2351.1,1048.0 L2352.4,1048.0 L2353.8,1080.1 L2355.4,1096.2 L2357.8,1097.5 L2358.4,1069.4 L2361.1,1068.1 L2363.1,1096.2 L2365.1,1080.1 L2367.1,1097.5 L2368.5,1097.5 L2369.8,1061.4 L2371.2,1064.1 L2372.5,1096.2 L2374.5,1096.2 L2375.8,1069.4 L2377.8,1088.2 L2379.2,1080.1 L2378.9,1060.0 L2380.7,1036.6 L2383.4,1045.5 L2386.7,1050.0 L2390.1,1043.3 L2391.2,1016.5 L2394.5,1018.8 L2396.3,987.5 L2397.9,978.6 L2400.1,987.5 L2402.3,954.1 L2403.5,913.9 L2405.7,938.5 L2406.8,911.7 L2409.0,911.7 L2410.2,887.1 L2412.4,916.1 L2414.6,878.2 L2416.8,902.8 L2418.6,925.1 L2420.2,893.8 L2422.4,891.6 L2424.7,896.1 L2425.8,925.1 L2427.6,896.1 L2429.1,893.8 L2431.3,898.3 L2432.5,945.1 L2434.7,951.8 L2436.9,951.8 L2438.0,916.1 L2439.6,938.5 L2441.4,916.1 L2443.2,931.8 L2444.7,920.6 L2446.3,871.5 L2448.1,847.0 L2449.9,853.7 L2451.4,876.0 L2453.6,878.2 L2455.9,855.9 L2458.1,869.3 L2459.2,831.4 L2460.3,818.0 L2462.6,826.9 L2464.8,835.8 L2465.9,882.7 L2467.0,938.5 L2469.3,884.9 L2471.5,867.1 L2474.8,862.6 L2476.6,880.5 L2479.3,882.7 L2481.5,916.1 L2483.3,918.4 L2486.0,898.3 L2488.2,920.6 L2490.5,902.8 L2492.7,916.1 L2495.4,911.7 L2497.1,864.8 L2499.4,862.6 L2501.6,855.9 L2503.4,878.2 L2506.1,864.8 L2507.2,898.3 L2509.4,902.8 L2511.6,918.4 L2514.5,918.4 L2516.1,893.8 L2519.0,902.8 L2521.7,884.9 L2523.5,862.6 L2525.7,853.7 L2527.3,826.9 L2529.5,820.2 L2530.0,821.2 L2531.5,830.5 L2533.7,839.9 L2536.2,774.3 L2538.7,780.6 L2540.9,805.6 L2544.0,783.7 L2546.2,786.8 L2548.1,827.4 L2550.2,777.5 L2551.8,821.2 L2554.9,771.2 L2557.4,802.4 L2559.6,830.5 L2562.7,833.7 L2565.9,836.8 L2569.0,864.9 L2570.5,908.6 L2573.7,889.9 L2576.2,908.6 L2577.4,936.7 L2579.9,924.2 L2582.4,955.4 L2584.6,1011.6 L2586.8,958.5 L2589.3,955.4 L2591.8,958.5 L2594.0,930.4 L2596.1,958.5 L2598.6,946.1 L2600.2,986.6 L2602.4,955.4 L2604.9,986.6 L2607.4,958.5 L2610.5,983.5 L2613.6,980.4 L2615.8,942.9 L2618.9,986.6 L2622.1,992.9 L2624.2,999.1 L2626.7,1058.5 L2629.9,1072.5 L2633.0,1027.2 L2636.7,1039.7 L2640.8,999.1 L2643.9,1002.3 L2647.0,1030.4 L2650.2,1017.9 L2653.3,1052.2 L2656.4,1080.3 L2659.5,1058.5 L2661.7,1099.0 L2664.8,1120.9 L2666.2,1185.4 L2669.4,1159.3 L2672.1,1182.2 L2674.3,1178.9 L2675.3,1208.3 L2677.6,1188.7 L2679.9,1211.6 L2681.9,1224.7 L2684.2,1195.2 L2686.5,1165.8 L2689.1,1165.8 L2690.7,1196.9 L2693.0,1185.4 L2695.6,1183.8 L2698.2,1192.0 L2699.5,1303.2 L2702.2,1309.7 L2703.8,1349.0 L2705.4,1381.7 L2708.7,1345.7 L2712.0,1401.3 L2715.9,1401.3 L2718.5,1355.5 L2721.1,1247.6 L2723.4,1283.6 L2725.7,1335.9 L2728.3,1309.7 L2730.9,1342.4 L2732.2,1381.7 L2734.9,1371.9 L2736.5,1296.6 L2739.8,1293.4 L2742.1,1283.6 L2744.0,1263.9 L2746.3,1322.8 L2748.9,1267.2 L2751.2,1234.5 L2753.8,1241.0 L2756.1,1280.3 L2757.8,1306.5 L2761.0,1283.6 L2763.7,1273.7 L2765.3,1309.7 L2767.6,1267.2 L2769.2,1247.6 L2772.5,1241.0 L2775.8,1237.8 L2779.0,1244.3 L2781.6,1280.3 L2783.9,1257.4 L2787.2,1270.5 L2789.8,1267.2 L2792.1,1296.6 L2794.4,1349.0 L2796.4,1385.0 L2798.7,1332.6 L2800.9,1365.3 L2803.6,1345.7 L2806.2,1368.6 L2808.5,1450.4 L2810.8,1456.9 L2811.7,1522.4 L2814.9,1560.0 L2815.4,1596.9 L2817.4,1730.9 L2819.2,1586.8 L2820.4,1662.7 L2821.7,1503.4 L2823.5,1571.7 L2825.0,1660.1 L2826.8,1609.6 L2829.3,1700.6 L2831.8,1698.1 L2833.6,1650.0 L2836.1,1652.6 L2837.6,1695.5 L2839.4,1705.6 L2840.7,1715.8 L2842.7,1685.4 L2845.2,1693.0 L2847.0,1695.5 L2848.8,1667.7 L2850.8,1698.1 L2853.3,1662.7 L2855.8,1665.2 L2857.9,1690.5 L2860.4,1672.8 L2862.9,1690.5 L2864.7,1599.5 L2866.5,1612.1 L2868.5,1687.9 L2871.0,1657.6 L2873.0,1677.8 L2874.8,1667.7 L2876.6,1695.5 L2879.8,1680.4 L2881.6,1700.6 L2883.6,1695.5 L2886.2,1693.0 L2888.7,1703.1 L2890.7,1713.2 L2893.2,1705.6 L2895.0,1733.4 L2896.8,1736.0 L2898.8,1710.7 L2900.8,1670.3 L2903.9,1672.8 L2906.4,1693.0 L2909.4,1660.1 L2911.4,1667.7 L2914.0,1695.5 L2916.5,1672.8 L2919.0,1685.4 L2921.6,1677.8 L2923.6,1682.9 L2926.6,1687.9 L2929.1,1645.0 L2931.7,1634.9 L2934.2,1660.1 L2936.7,1647.5 L2938.7,1614.6 L2942.3,1612.1 L2944.3,1642.4 L2946.8,1645.0 L2948.1,1602.0 L2949.9,1574.2 L2951.9,1599.5 L2954.4,1624.8 L2956.9,1604.5 L2960.0,1624.8 L2961.5,1584.3 L2963.3,1579.3 L2966.6,1602.0 L2969.1,1586.8 L2971.6,1591.9 L2974.1,1581.8 L2977.2,1591.9 L2980.2,1591.9 L2982.2,1516.1 L2984.2,1513.5 L2987.3,1526.2 L2990.3,1546.4 L2992.3,1551.4 L2994.4,1531.2 L2996.1,1500.9 L2999.4,1511.0 L3002.4,1463.0 L3005.0,1442.8 L3006.1,1375.4 L3009.3,1415.5 L3011.4,1359.3 L3013.6,1378.1 L3015.4,1337.9 L3019.4,1303.1 L3021.6,1346.0 L3023.5,1303.1 L3025.3,1335.2 L3027.5,1305.8 L3029.6,1340.6 L3031.5,1321.9 L3033.4,1367.4 L3035.5,1362.0 L3038.2,1364.7 L3041.4,1335.2 L3043.5,1359.3 L3045.7,1362.0 L3047.5,1321.9 L3050.2,1346.0 L3052.9,1327.2 L3054.8,1367.4 L3058.3,1367.4 L3060.1,1343.3 L3062.8,1407.5 L3065.5,1364.7 L3067.6,1407.5 L3070.3,1375.4 L3073.0,1383.4 L3075.7,1399.5 L3078.9,1461.0 L3081.5,1418.2 L3083.7,1474.4 L3085.0,1498.5 L3086.9,1461.0 L3089.6,1469.1 L3093.1,1498.5 L3094.9,1447.7 L3097.1,1439.6 L3099.7,1474.4 L3101.9,1479.8 L3104.6,1442.3 L3107.2,1466.4 L3109.9,1463.7 L3111.8,1431.6 L3114.5,1466.4 L3117.1,1434.3 L3119.8,1453.0 L3121.2,1399.5 L3123.8,1372.7 L3126.5,1394.1 L3128.7,1351.3 L3131.3,1378.1 L3135.1,1324.5 L3137.8,1346.0 L3139.9,1372.7 L3142.0,1354.0 L3143.9,1407.5 L3146.6,1354.0 L3148.5,1340.6 L3150.6,1372.7 L3152.7,1329.9 L3154.6,1415.5 L3156.5,1383.4 L3158.1,1442.3 L3160.8,1383.4 L3164.0,1404.8 L3166.1,1420.9 L3168.8,1404.8 L3172.0,1388.8 L3174.7,1351.3 L3176.0,1297.8 L3177.9,1289.7 L3180.6,1316.5 L3182.7,1257.6 L3185.4,1300.4 L3187.5,1265.7 L3190.2,1287.1 L3191.3,1236.2 L3194.0,1233.5 L3195.6,1201.4 L3198.2,1193.4 L3200.1,1233.5 L3202.8,1214.8 L3204.1,1246.9 L3205.5,1311.2 L3208.1,1300.4 L3210.0,1273.7 L3212.2,1206.8 L3212.9,1162.7 L3214.5,1139.8 L3216.2,1077.7 L3218.8,1041.7 L3221.1,1097.3 L3222.7,1074.4 L3225.3,1061.3 L3226.0,963.2 L3228.6,930.5 L3229.9,963.2 L3230.9,917.4 L3232.5,881.4 L3234.2,910.8 L3235.8,937.0 L3238.4,865.1 L3240.7,812.7 L3242.3,887.9 L3244.0,910.8 L3245.6,871.6 L3248.2,865.1 L3249.9,933.7 L3252.8,950.1 L3255.4,881.4 L3258.7,842.2 L3260.3,780.1 L3262.6,680.9 L3265.9,746.4 L3268.5,785.6 L3264.6,780.0 L3266.9,822.5 L3268.5,786.5 L3271.8,917.4 L3275.1,825.8 L3277.7,891.2 L3279.0,832.3 L3281.6,940.3 L3284.2,904.3 L3285.5,969.7 L3288.1,999.2 L3289.8,920.7 L3292.1,937.0 L3294.0,904.3 L3296.3,927.2 L3297.9,861.8 L3301.2,819.3 L3302.9,845.4 L3304.5,788.9 L3306.1,739.8 L3308.4,713.7 L3311.7,697.3 L3313.7,648.2 L3315.9,609.0 L3317.6,510.8 L3320.2,517.4 L3322.5,635.2 L3324.1,533.7 L3327.4,527.2 L3329.0,494.5 L3332.3,412.7 L3334.9,514.1 L3337.2,445.4 L3340.5,422.5 L3343.1,563.2 L3345.4,543.6 L3347.0,618.8 L3349.6,559.9 L3351.9,589.4 L3353.6,674.4 L3356.8,707.1 L3358.5,638.4 L3361.7,700.6 L3364.0,615.5 L3366.6,579.5 L3369.3,543.6 L3371.6,609.0 L3373.8,658.1 L3376.5,694.0 L3379.1,723.5 L3381.4,671.1 L3384.6,661.3 L3386.3,707.1 L3387.9,641.7 L3391.2,599.2 L3394.4,553.4 L3397.7,517.4 L3400.0,543.6 L3403.3,471.6 L3405.2,537.0 L3407.5,510.8 L3409.8,635.2 L3412.4,720.2 L3415.7,648.2 L3419.0,723.5 L3421.6,749.6 L3423.9,684.2 L3427.2,645.0 L3431.4,713.7 L3434.7,648.2 L3437.0,723.5 L3439.3,674.4 L3441.9,713.7 L3444.5,609.0 L3446.8,602.4 L3448.4,563.2 L3451.7,574.9 L3455.1,581.6 L3458.4,558.2 L3461.8,584.9 L3465.1,558.2 L3468.5,598.3 L3471.8,481.2 L3474.2,518.0 L3476.8,584.9 L3479.5,551.5 L3481.9,497.9 L3485.2,501.3 L3487.5,431.0 L3490.2,501.3 L3491.9,397.6 L3495.2,380.8 L3498.6,434.4 L3500.9,467.8 L3503.6,394.2 L3507.3,411.0 L3509.3,382.9 L3510.3,368.8 L3511.3,346.7 L3511.9,326.7 L3513.3,304.6 L3514.7,284.5 L3516.3,282.5 L3518.3,214.2 L3519.9,218.3 L3521.3,290.5 L3522.7,294.5 L3524.3,278.5 L3525.9,200.2 L3526.7,166.1 L3527.9,152.0 L3529.3,190.2 L3530.7,208.2 L3531.9,164.1 L3533.4,198.2 L3534.4,188.1 L3535.4,250.4 L3536.0,290.5 L3536.8,262.4 L3538.4,276.5 L3539.4,324.7 L3540.4,334.7 L3541.4,342.7 L3542.4,310.6 L3543.4,354.8 L3545.4,356.8 L3546.4,332.7 L3548.4,360.8 L3549.4,368.8 L3550.8,370.8 L3552.0,401.0 L3553.4,403.0 L3544.9,355.8 L3546.7,333.5 L3548.5,364.8 L3549.4,404.9 L3551.6,404.9 L3552.9,422.8 L3556.1,422.8 L3556.7,458.5 L3557.8,516.4 L3559.6,520.9 L3560.5,547.7 L3562.3,549.9 L3564.1,575.6 L3565.7,536.5 L3567.9,520.9 L3569.0,483.0 L3571.2,516.4 L3573.5,514.2 L3575.7,445.1 L3577.9,458.5 L3579.7,436.1 L3581.9,467.4 L3583.5,547.7 L3584.6,467.4 L3586.8,469.6 L3588.0,440.6 L3589.1,391.5 L3590.9,413.8 L3592.4,391.5 L3594.7,382.6 L3596.9,396.0 L3598.4,436.1 L3600.2,418.3 L3602.5,467.4 L3604.7,465.1 L3605.8,431.7 L3606.9,382.6 L3609.6,380.4 L3611.4,409.4 L3613.2,431.7 L3614.7,407.1 L3616.3,378.1 L3618.1,353.6 L3619.9,346.9 L3620.7,302.3 L3622.5,293.4 L3623.4,263.8 L3626.7,287.2 L3630.1,253.7 L3633.7,322.4 L3635.9,333.5 L3637.7,324.6 L3639.9,373.7 L3641.5,342.5 L3643.1,355.8 L3644.8,335.8 L3646.6,309.0 L3647.7,284.5 L3649.3,333.5 L3651.5,375.9 L3653.8,333.5 L3655.5,431.7 L3657.1,418.3 L3659.3,418.3 L3661.6,425.0 L3663.1,380.4 L3664.5,329.1 L3666.0,384.8 L3668.3,402.7 L3669.8,396.0 L3671.6,436.1 L3673.8,445.1 L3675.6,418.3 L3677.2,402.7 L3678.7,431.7 L3680.5,447.3 L3682.3,503.1 L3683.9,578.9 L3686.1,503.1 L3689.0,565.5 L3690.6,529.8 L3693.9,574.4 L3696.1,532.1 L3698.4,558.8 L3700.2,594.9 L3703.6,621.6 L3706.2,628.3 L3708.6,598.2 L3710.9,574.8 L3714.3,594.9 L3716.3,501.2 L3719.6,471.1 L3723.0,491.1 L3725.3,430.9 L3728.7,397.5 L3731.0,367.4 L3733.7,350.6 L3737.0,347.3 L3739.7,397.5 L3742.0,347.3 L3745.4,397.5 L3747.1,434.3 L3749.7,441.0 L3752.1,427.6 L3753.8,360.7 L3755.4,360.7 L3757.1,297.1 L3759.8,283.7 L3762.1,303.8 L3765.5,277.0 L3767.1,263.6 L3769.8,220.1 L3772.2,240.2 L3773.8,290.4 L3777.2,313.8 L3779.8,297.1 L3783.2,347.3 L3786.5,280.4 L3788.9,333.9 L3792.2,307.1 L3793.9,357.3 L3795.6,397.5 L3797.2,441.0 L3799.9,387.4 L3802.3,424.2 L3805.6,387.4 L3807.9,414.2 L3810.6,367.4 L3812.3,434.3 L3814.6,497.8 L3817.3,330.6 L3820.0,380.7 L3823.3,354.0 L3825.7,397.5 L3829.0,441.0 L3831.4,374.0 L3834.7,313.8 L3837.4,347.3 L3840.1,293.8 L3842.4,350.6 L3844.8,367.4 L3848.1,320.5 L3850.8,340.6 L3852.7,337.6 L3855.0,374.5 L3857.3,397.5 L3860.7,415.9 L3863.0,379.1 L3864.9,353.7 L3867.2,381.4 L3868.8,323.7 L3870.4,360.6 L3872.3,346.8 L3874.6,374.5 L3876.4,353.7 L3878.0,397.5 L3879.6,420.5 L3881.5,422.9 L3883.8,399.8 L3886.1,381.4 L3887.9,383.7 L3889.6,399.8 L3891.2,422.9 L3894.2,402.1 L3896.5,415.9 L3898.1,475.9 L3900.4,496.6 L3902.2,485.1 L3904.5,452.8 L3906.8,432.1 L3908.7,464.3 L3910.3,439.0 L3912.6,457.4 L3914.2,436.7 L3916.1,482.8 L3918.4,494.3 L3920.2,485.1 L3921.8,510.4 L3923.4,501.2 L3925.7,503.5 L3927.6,462.0 L3929.4,441.3 L3931.0,471.2 L3932.6,468.9 L3934.5,455.1 L3936.8,462.0 L3939.6,471.2 L3941.4,498.9 L3943.2,480.5 L3945.6,455.1 L3947.2,436.7 L3950.2,434.4 L3951.8,457.4 L3954.1,439.0 L3956.4,455.1 L3958.7,436.7 L3961.0,448.2 L3963.3,434.4 L3965.6,432.1 L3967.9,441.3 L3969.1,411.3 L3970.9,395.2 L3972.5,411.3 L3973.7,411.3" fill="none" stroke="#03294b" stroke-width="6.5" stroke-linejoin="round" stroke-linecap="round"/>
<g filter="url(#sh)"><line x1="385.9" y1="450.5" x2="3964.6" y2="450.5" stroke="#c00000" stroke-width="6" stroke-dasharray="48.4 18.2"/></g>
<ellipse transform="rotate(-1.0 318.8 347.8)" cx="318.8" cy="347.8" rx="147" ry="297" pathLength="1428" fill="none" stroke="#c00000" stroke-width="12" stroke-dasharray="48 36" stroke-dashoffset="48"/>
<ellipse transform="rotate(1.3 3618.5 482.7)" cx="3618.5" cy="482.7" rx="398.5" ry="296" pathLength="2184" fill="none" stroke="#c00000" stroke-width="12" stroke-dasharray="48 36" stroke-dashoffset="20"/>
</svg></body></html>
